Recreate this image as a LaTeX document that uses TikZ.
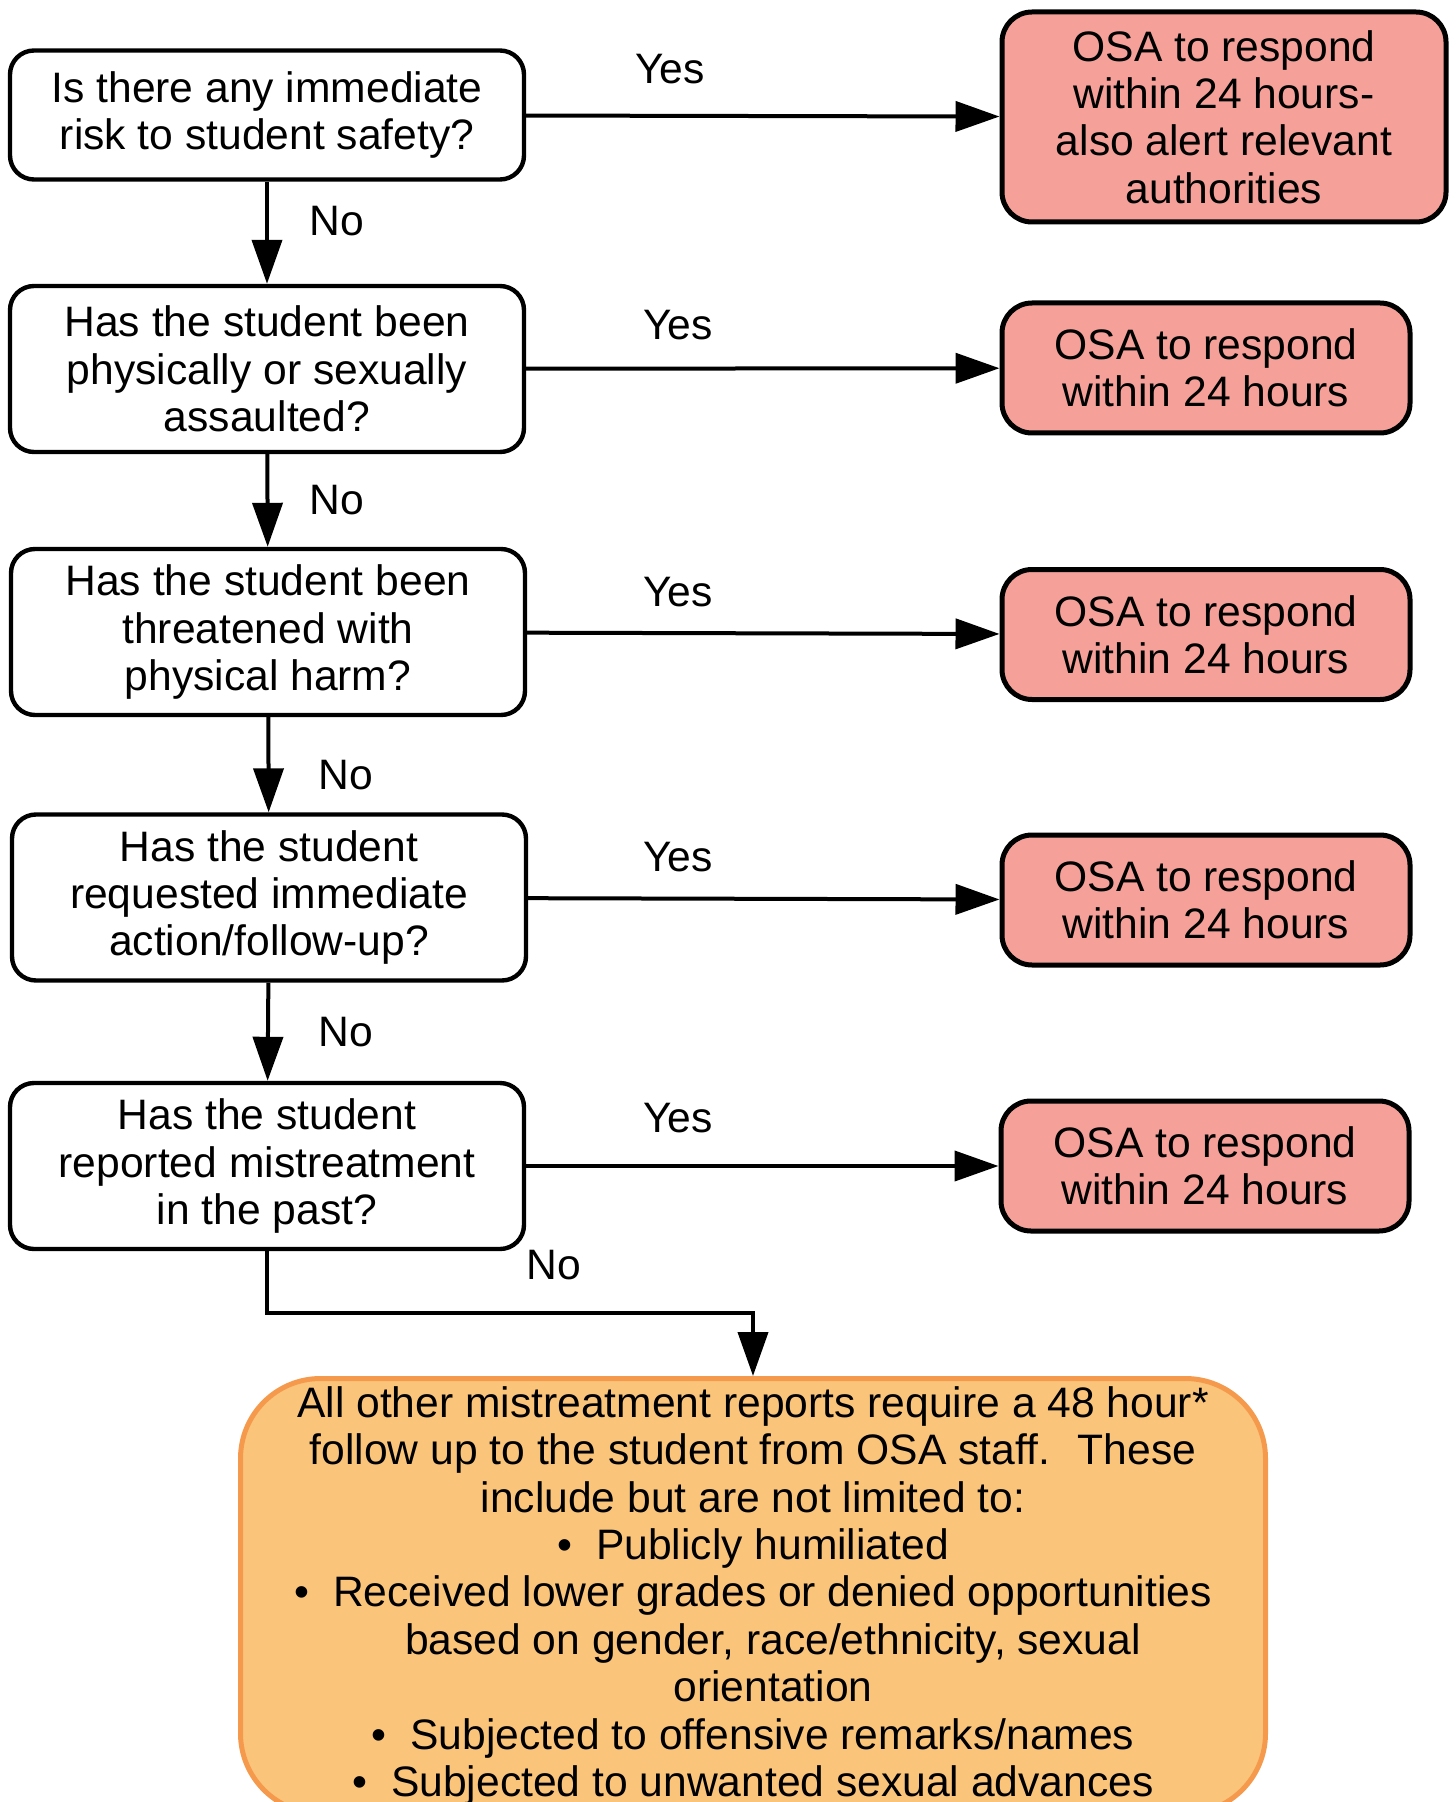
\documentclass[tikz,border=0pt]{standalone}
\usepackage{fontspec}
\setmainfont{Liberation Sans}
\usetikzlibrary{arrows.meta,positioning}

\definecolor{answerred}{HTML}{F5A19A}
\definecolor{otherfill}{HTML}{FAC57B}
\definecolor{otherdraw}{HTML}{F59A4C}

\begin{document}
\begin{tikzpicture}
	[x=0.5pt, y=-0.5pt,
	every node/.style={font=\fontsize{21.3}{23.7}\selectfont, align=center},
	question/.style={draw, line width=2.2pt, rounded corners=12pt, minimum width=257pt, minimum height=83pt, inner sep=0pt},
	answer/.style={draw, fill=answerred, line width=2.5pt, rounded corners=15pt, minimum width=204pt, minimum height=65pt, inner sep=0pt},
	other/.style={draw=otherdraw, fill=otherfill, line width=2.5pt, rounded corners=40pt, minimum width=512.5pt, inner ysep=4pt},
	flow/.style={line width=2pt, -{Triangle[length=22pt,width=15pt]}}]
	\useasboundingbox (0,0) rectangle (1455,1802);
	\clip (0,0) rectangle (1455,1802);
	% questions
	\node (q1) [question, minimum height=64.5pt] at (267,115) {Is there any immediate\\risk to student safety?};
	\node (q2) [question] at (267,369) {Has the student been\\physically or sexually\\assaulted?};
	\node (q3) [question] at (268,632) {Has the student been\\threatened with\\physical harm?};
	\node (q4) [question] at (269,897.5) {Has the student\\requested immediate\\action/follow-up?};
	\node (q5) [question] at (267,1166) {Has the student\\reported mistreatment\\in the past?};
	% answers
	\node (a1) [answer, minimum width=222pt, minimum height=105pt] at (1224,117) {OSA to respond\\within 24 hours-\\also alert relevant\\authorities};
	\node (a2) [answer] at (1206,368) {OSA to respond\\within 24 hours};
	\node (a3) [answer] at (1206,634.5) {OSA to respond\\within 24 hours};
	\node (a4) [answer] at (1206,900) {OSA to respond\\within 24 hours};
	\node (a5) [answer] at (1205,1166) {OSA to respond\\within 24 hours};
	\node (other) [other, anchor=north] at (753,1376) {All other mistreatment reports require a 48 hour*\\
		follow up to the student from OSA staff.~ These\\
		include but are not limited to:\\
		•\hspace{12pt}Publicly humiliated\\
		•\hspace{12pt}Received lower grades or denied opportunities\\
		\hspace*{20pt}based on gender, race/ethnicity, sexual\\
		\hspace*{20pt}orientation\\
		•\hspace{12pt}Subjected to offensive remarks/names\\
		•\hspace{12pt}Subjected to unwanted sexual advances};
	% labels
	\node (yes1) at (670,69) {Yes};
	\node (yes2) at (678,325) {Yes};
	\node (yes3) at (678,592) {Yes};
	\node (yes4) at (678,857) {Yes};
	\node (yes5) at (678,1118) {Yes};
	\node (no1) at (337,221) {No};
	\node (no2) at (337,500) {No};
	\node (no3) at (346,775) {No};
	\node (no4) at (346,1032) {No};
	\node (no5) at (554,1265) {No};
	% connectors
	\draw [flow] (q1) -- (a1);
	\draw [flow] (q2) -- (a2);
	\draw [flow] (q3) -- (a3);
	\draw [flow] (q4) -- (a4);
	\draw [flow] (q5) -- (a5);
	\draw [flow] (q1) -- (q2);
	\draw [flow] (q2) -- (q3);
	\draw [flow] (q3) -- (q4);
	\draw [flow] (q4) -- (q5);
	\draw [flow] (q5.south) -- ++(0,62) -| (other.north);
\end{tikzpicture}
\end{document}
